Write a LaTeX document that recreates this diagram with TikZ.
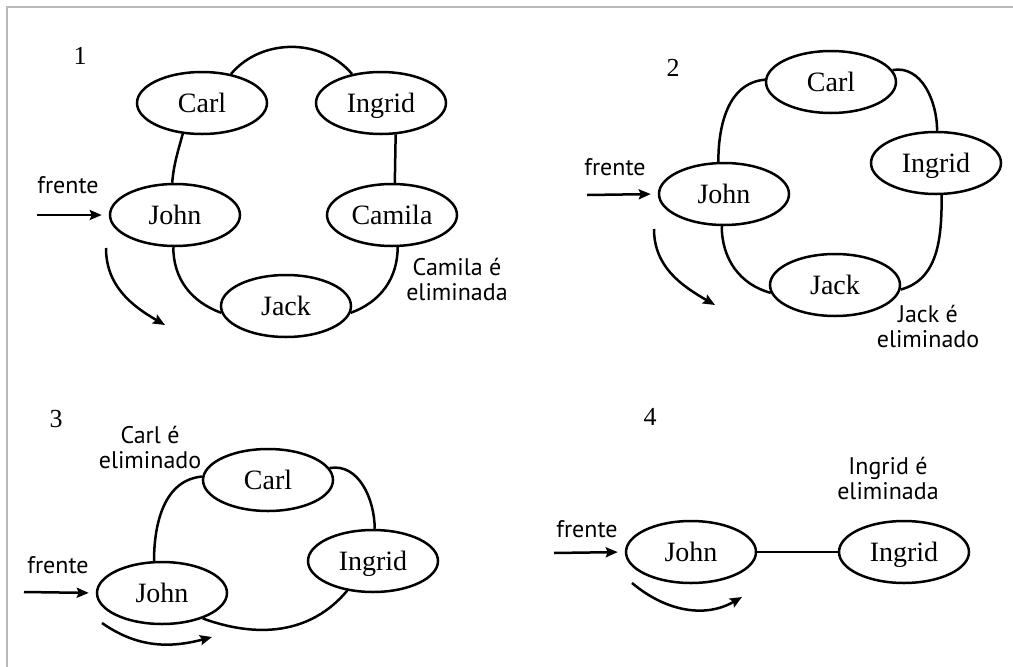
\documentclass[tikz,border=0pt]{standalone}
\usepackage{fontspec}
\setmainfont{Liberation Serif}
\newfontfamily\notefont{PT Sans}
\usetikzlibrary{shapes.geometric,arrows.meta}

\begin{document}
\begin{tikzpicture}[x=1pt,y=1pt,
  pessoa/.style={ellipse,draw,line width=2.5pt,minimum width=130pt,minimum height=62pt,inner sep=0pt,text height=18pt,text depth=0pt,font=\fontsize{28}{30}\selectfont},
  elo/.style={line width=2.5pt},
  seta/.style={line width=2.5pt,-{Stealth[length=12pt,width=10pt,inset=2pt]}},
  nota/.style={align=center,anchor=base,inner sep=0pt,font=\notefont\fontsize{24}{25}\selectfont},
  passo/.style={anchor=base,inner sep=0pt,font=\fontsize{26}{28}\selectfont}]

  \useasboundingbox (0,0) rectangle (1013,-667);
  \draw[gray!55,line width=1.4pt] (7,-667) -- (7,-7) -- (1013,-7);

  \node[passo] (num1) at (80,-64) {1};
  \node[pessoa] (carl1) at (202,-103) {Carl};
  \node[pessoa] (ingrid1) at (381,-103) {Ingrid};
  \node[pessoa] (john1) at (175,-215) {John};
  \node[pessoa] (camila1) at (392,-215) {Camila};
  \node[pessoa] (jack1) at (286,-306) {Jack};
  \node[nota] (frente1) at (68,-193) {frente};
  \node[nota] (fim1) at (457,-300) {Camila é\\eliminada};
  \coordinate (ent1) at (37,-215);
  \coordinate (gira1a) at (106,-248);
  \coordinate (gira1b) at (165,-325);
  \draw[elo] (carl1.45) to[out=50,in=130] (ingrid1.135);
  \draw[elo] (carl1.238) to[out=-105,in=85] (john1.95);
  \draw[elo] (ingrid1.295) -- (camila1.85);
  \draw[elo] (john1.267) to[out=-90,in=160] (jack1.186);
  \draw[elo] (camila1.280) to[out=-90,in=20] (jack1.354);
  \draw[seta,shorten >=7pt] (ent1) -- (john1.west);
  \draw[seta] (gira1a) to[out=-90,in=150] (gira1b);

  \node[passo] (num2) at (673,-76) {2};
  \node[pessoa] (carl2) at (831,-82) {Carl};
  \node[pessoa] (ingrid2) at (936,-163) {Ingrid};
  \node[pessoa] (john2) at (724,-194) {John};
  \node[pessoa] (jack2) at (835,-285) {Jack};
  \node[nota] (frente2) at (615,-175) {frente};
  \node[nota] (fim2) at (928,-347) {Jack é\\eliminado};
  \coordinate (ent2) at (587,-195);
  \coordinate (gira2a) at (654,-229);
  \coordinate (gira2b) at (715,-305);
  \draw[elo] (john2.100) to[out=90,in=185] (carl2.178);
  \draw[elo] (carl2.11) to[out=10,in=90] (ingrid2.88);
  \draw[elo] (ingrid2.280) to[out=-90,in=15] (jack2.356);
  \draw[elo] (john2.266) to[out=-90,in=165] (jack2.187);
  \draw[seta,shorten >=7pt] (ent2) -- (john2.west);
  \draw[seta] (gira2a) to[out=-90,in=150] (gira2b);

  \node[passo] (num3) at (56,-427) {3};
  \node[pessoa] (carl3) at (268,-480) {Carl};
  \node[pessoa] (ingrid3) at (373,-561) {Ingrid};
  \node[pessoa] (john3) at (162,-593) {John};
  \node[nota] (fim3) at (150,-468) {Carl é\\eliminado};
  \node[nota] (frente3) at (58,-573) {frente};
  \coordinate (ent3) at (24,-592);
  \coordinate (gira3a) at (102,-623);
  \coordinate (gira3b) at (212,-637);
  \draw[elo] (john3.104) to[out=90,in=185] (carl3.177);
  \draw[elo] (carl3.11) to[out=10,in=90] (ingrid3.87);
  \draw[elo] (ingrid3.229) to[out=-130,in=-20] (john3.328);
  \draw[seta,shorten >=7pt] (ent3) -- (john3.west);
  \draw[seta] (gira3a) to[out=-35,in=195] (gira3b);

  \node[passo] (num4) at (650,-425) {4};
  \node[pessoa] (john4) at (691,-552) {John};
  \node[pessoa] (ingrid4) at (904,-552) {Ingrid};
  \node[nota] (fim4) at (888,-499) {Ingrid é\\eliminada};
  \node[nota] (frente4) at (587,-537) {frente};
  \coordinate (ent4) at (554,-553);
  \coordinate (gira4a) at (632,-583);
  \coordinate (gira4b) at (742,-597);
  \draw[elo] (john4) -- (ingrid4);
  \draw[seta,shorten >=7pt] (ent4) -- (john4.west);
  \draw[seta] (gira4a) to[out=-40,in=210] (gira4b);
\end{tikzpicture}
\end{document}
